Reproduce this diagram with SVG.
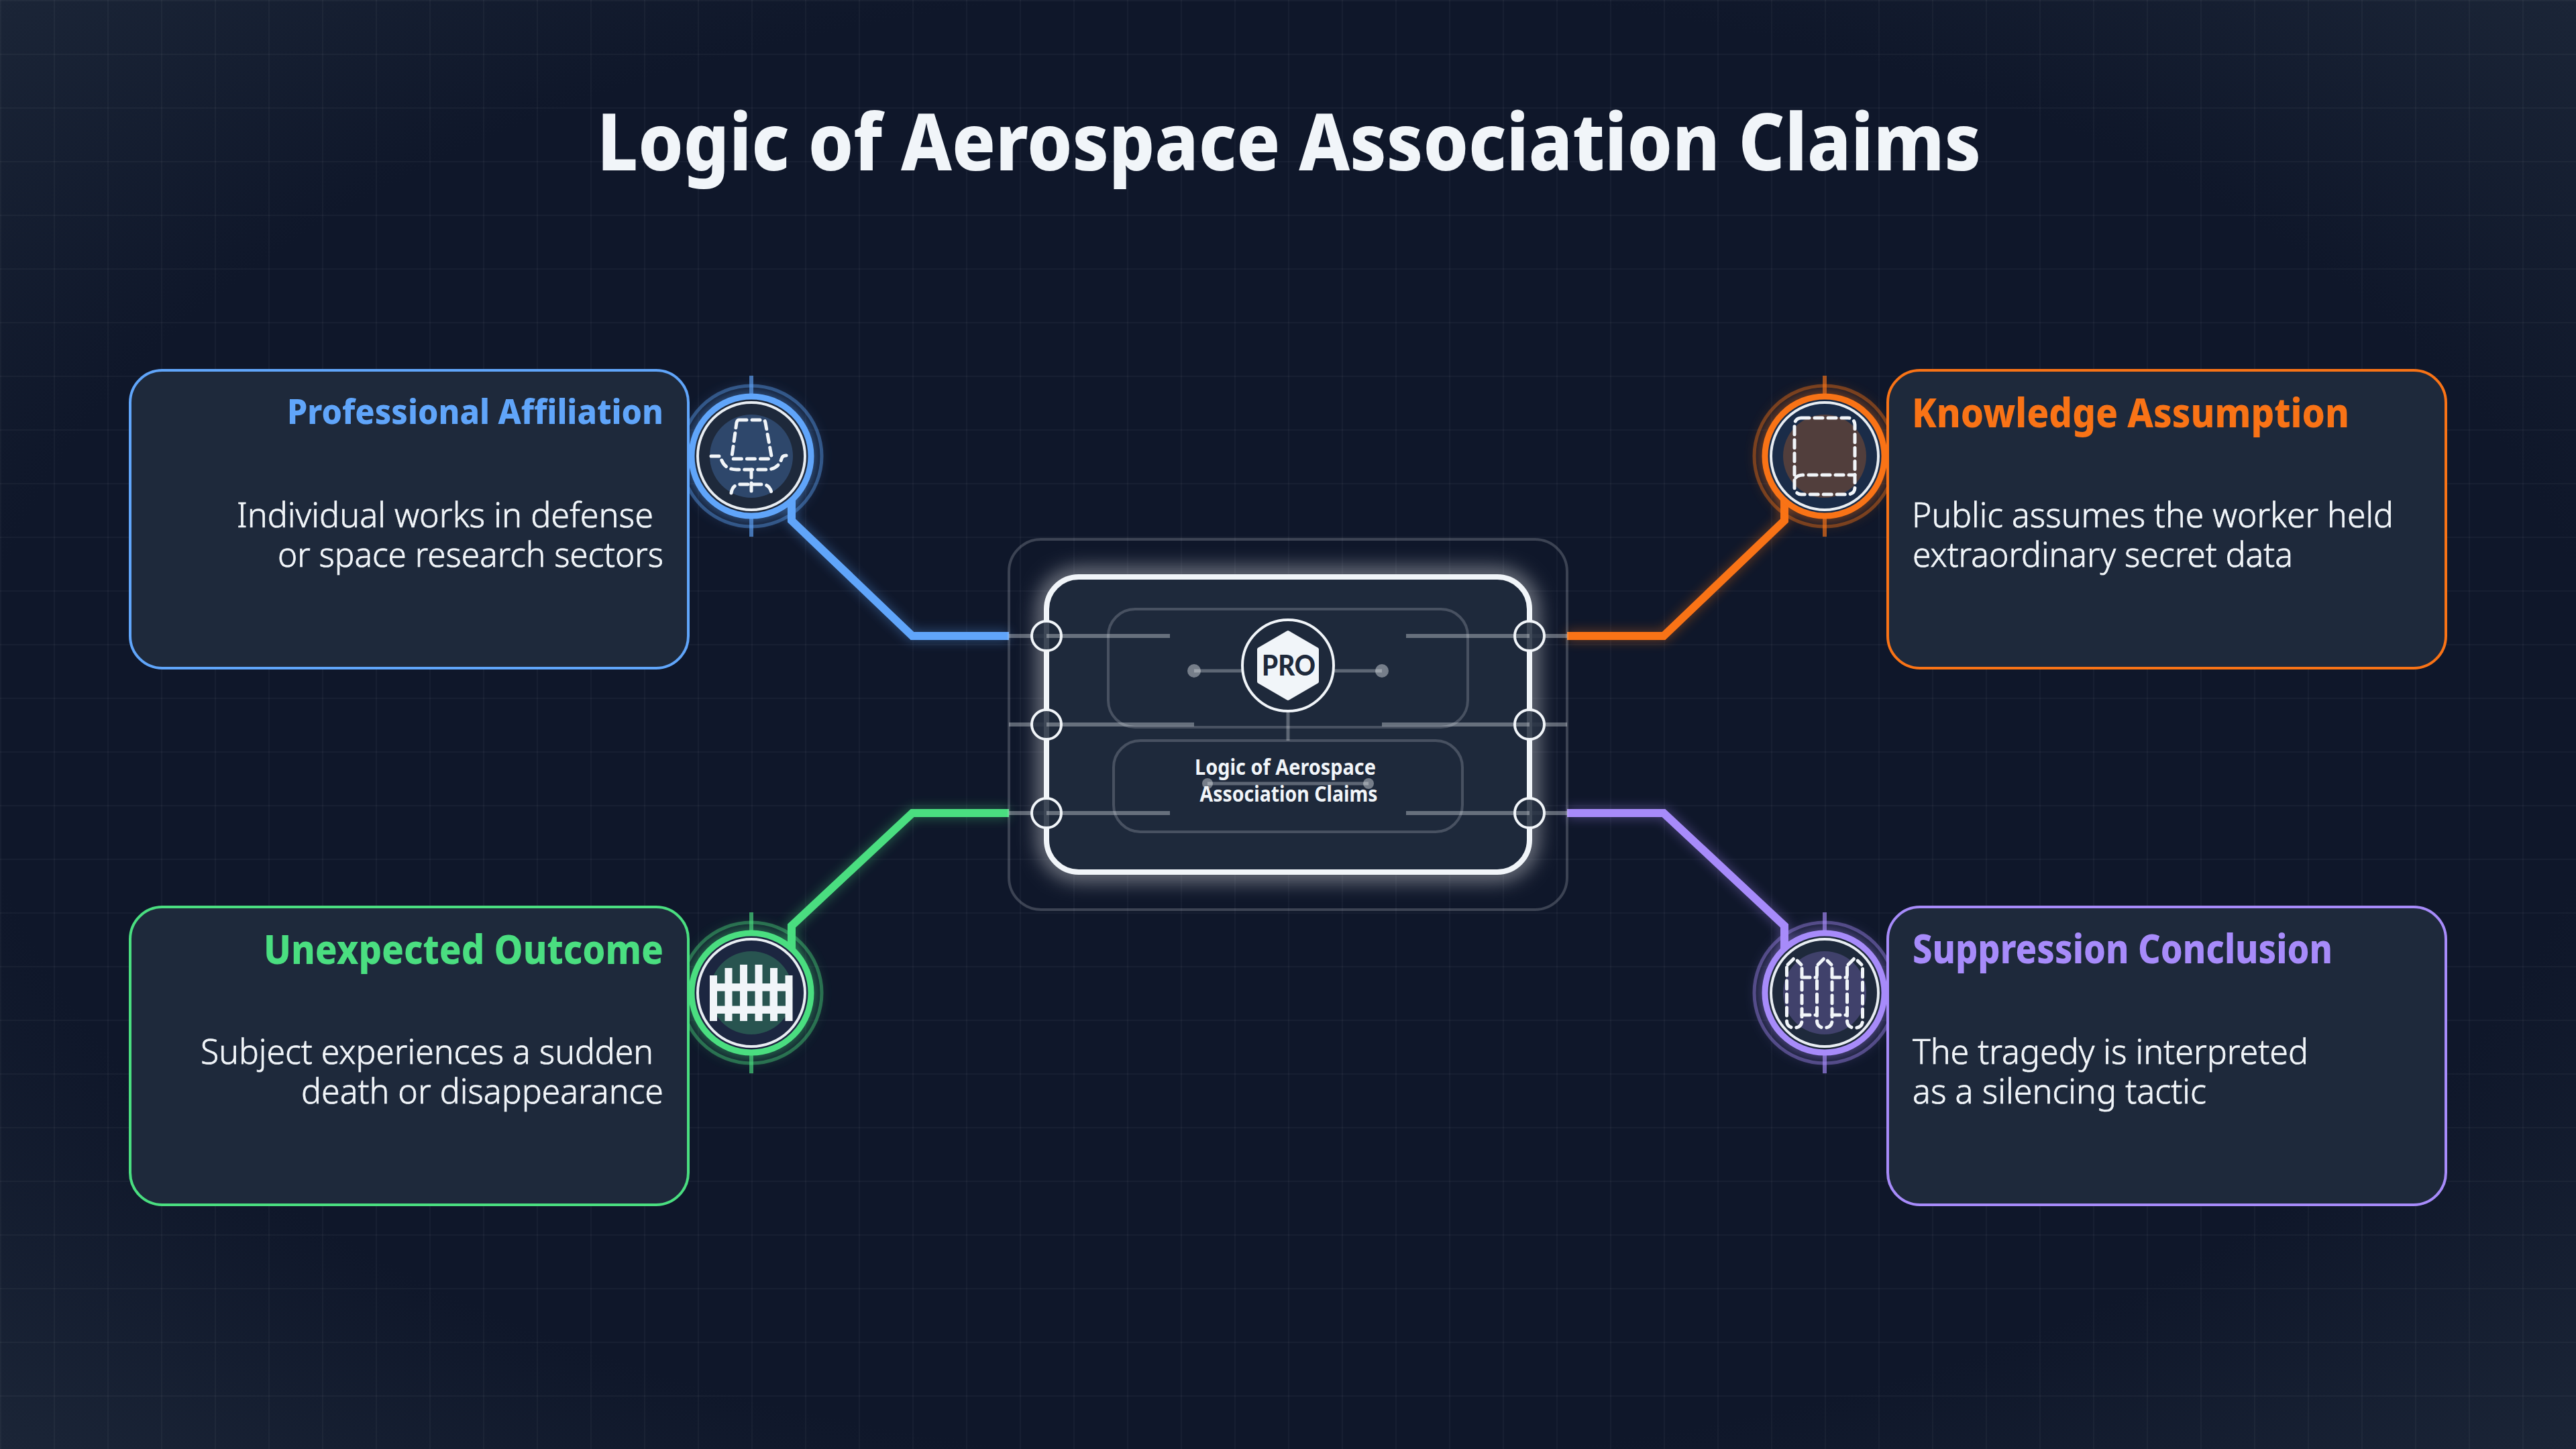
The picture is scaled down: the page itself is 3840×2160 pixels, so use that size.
<svg xmlns="http://www.w3.org/2000/svg" width="3840" height="2160" viewBox="0 0 3840 2160">
<defs>
<radialGradient id="bg" cx="0.5" cy="0.5" r="0.7072">
<stop offset="0" stop-color="#0f172a"/><stop offset="0.72" stop-color="#0f172a"/><stop offset="1" stop-color="#1b2537"/>
</radialGradient>
<pattern id="grid" width="80" height="80" patternUnits="userSpaceOnUse">
<rect width="80" height="2" fill="#fff" fill-opacity="0.035"/><rect width="2" height="80" fill="#fff" fill-opacity="0.035"/>
</pattern>
<filter id="glow" x="-50%" y="-50%" width="200%" height="200%"><feGaussianBlur stdDeviation="12"/></filter>
<filter id="glowHub" x="-20%" y="-30%" width="140%" height="160%"><feGaussianBlur stdDeviation="16"/></filter>
<filter id="glowLine" x="-30%" y="-30%" width="160%" height="160%"><feGaussianBlur stdDeviation="9"/></filter>
<style>
text{font-family:"Noto Sans","Open Sans","Liberation Sans",sans-serif;fill:#f1f5f9}
.title{font-size:118px;font-weight:800}
.ht{font-size:60px;font-weight:800}
.ds{font-size:52px;font-weight:300;stroke:#f1f5f9;stroke-width:.7}
.hub{font-size:32px;font-weight:700}
.card{fill:#1e293b;stroke-width:4}
.wire{fill:none;stroke-width:12;stroke-linejoin:miter}
.stub{stroke:#f1f5f9;stroke-opacity:.35;stroke-width:6;fill:none}
.fine{stroke:#f1f5f9;stroke-opacity:.3;stroke-width:5;fill:none}
.frame{fill:none;stroke:#f1f5f9;stroke-opacity:.2;stroke-width:4}
.dot{fill:#f1f5f9;fill-opacity:.42}
.port{fill:#1e293b;fill-opacity:.85;stroke:#f1f5f9;stroke-width:4}
.halo{fill:none;stroke-width:5;stroke-opacity:.4}
.tick{stroke-width:6;stroke-opacity:.65}
.ring{stroke-width:9}
.inner{fill:none;stroke:#e8edf2;stroke-width:4}
.dash{fill:none;stroke:#f1f5f9;stroke-width:5;stroke-linecap:round;stroke-linejoin:round;stroke-dasharray:12 8}
</style>
</defs>
<rect width="3840" height="2160" fill="url(#bg)"/>
<rect width="3840" height="2160" fill="url(#grid)"/>
<text class="title" x="890" y="254" textLength="2063" lengthAdjust="spacingAndGlyphs">Logic of Aerospace Association Claims</text>

<g id="connectors">
<path class="wire" d="M1504,948H1360L1180,776V720" stroke="#60a5fa" filter="url(#glowLine)" opacity=".45"/>
<path class="wire" d="M2336,948H2480L2660,776V720" stroke="#f97316" filter="url(#glowLine)" opacity=".45"/>
<path class="wire" d="M1504,1212H1360L1180,1380V1440" stroke="#4ade80" filter="url(#glowLine)" opacity=".45"/>
<path class="wire" d="M2336,1212H2480L2660,1380V1440" stroke="#a78bfa" filter="url(#glowLine)" opacity=".45"/>
<path class="wire" d="M1504,948H1360L1180,776V720" stroke="#60a5fa"/>
<path class="wire" d="M2336,948H2480L2660,776V720" stroke="#f97316"/>
<path class="wire" d="M1504,1212H1360L1180,1380V1440" stroke="#4ade80"/>
<path class="wire" d="M2336,1212H2480L2660,1380V1440" stroke="#a78bfa"/>
</g>

<g id="hub">
<rect class="frame" x="1504" y="804" width="832" height="552" rx="48"/>
<rect x="1560" y="860" width="720" height="440" rx="48" fill="none" stroke="#fff" stroke-width="14" stroke-opacity=".85" filter="url(#glowHub)"/>
<path class="stub" d="M1504,948H1560M1504,1080H1560M1504,1212H1560M2280,948H2336M2280,1080H2336M2280,1212H2336"/>
<rect x="1560" y="860" width="720" height="440" rx="48" fill="#1e293b" stroke="#f1f5f9" stroke-width="8"/>
<rect class="frame" x="1652" y="908" width="536" height="176" rx="40"/>
<rect class="frame" x="1660" y="1104" width="520" height="136" rx="40"/>
<circle class="port" cx="1560" cy="948" r="22"/><circle class="port" cx="1560" cy="1080" r="22"/><circle class="port" cx="1560" cy="1212" r="22"/>
<circle class="port" cx="2280" cy="948" r="22"/><circle class="port" cx="2280" cy="1080" r="22"/><circle class="port" cx="2280" cy="1212" r="22"/>
<path class="stub" d="M1560,948H1744M1560,1080H1780M1560,1212H1744M2096,948H2280M2060,1080H2280M2096,1212H2280"/>
<circle class="dot" cx="1780" cy="1000" r="10"/><circle class="dot" cx="2060" cy="1000" r="10"/>
<circle class="dot" cx="1800" cy="1168" r="8"/><circle class="dot" cx="2040" cy="1168" r="8"/>
<path class="fine" d="M1780,1000H2060M1800,1168H2040M1920,1060V1104"/>
<circle cx="1920" cy="992" r="68" fill="#1e293b" stroke="#f1f5f9" stroke-width="4"/>
<path d="M1920,943L1963,968V1016L1920,1041L1877,1016V968Z" fill="#f1f5f9" stroke="#f1f5f9" stroke-width="6" stroke-linejoin="round"/>
<text x="1881" y="1007" textLength="80" lengthAdjust="spacingAndGlyphs" style="font-family:Lato,'Noto Sans',sans-serif;font-size:42px;font-weight:900;fill:#1e293b">PRO</text>
<text class="hub" x="1781" y="1155" textLength="270" lengthAdjust="spacingAndGlyphs">Logic of Aerospace</text>
<text class="hub" x="1788.500" y="1195" textLength="265" lengthAdjust="spacingAndGlyphs">Association Claims</text>
</g>

<g id="node-professional">
<circle cx="1120" cy="680" r="94" fill="#60a5fa" filter="url(#glow)" opacity=".6"/>
<circle class="halo" cx="1120" cy="680" r="105" stroke="#60a5fa"/>
<line class="tick" x1="1120" y1="560" x2="1120" y2="800" stroke="#60a5fa"/>
<circle class="ring" cx="1120" cy="680" r="89" fill="#1e293b" stroke="#60a5fa"/>
<circle class="inner" cx="1120" cy="680" r="80"/>
<circle cx="1120" cy="680" r="62" fill="#60a5fa" fill-opacity=".25"/>
<path class="dash" d="M1101,626H1138Q1140,626 1141,630L1150,680Q1150,684 1146,684H1094Q1090,684 1091,680L1098,630Q1099,626 1101,626Z"/>
<path class="dash" d="M1060,680H1074Q1078,700 1098,700H1142Q1160,700 1165,684Q1166,679 1172,679"/>
<path class="dash" d="M1120,700V733M1090,735Q1092,722 1104,722H1136Q1148,722 1150,735"/>
<rect class="card" x="194" y="552" width="832" height="444" rx="48" stroke="#60a5fa"/>
<text class="ht" x="428" y="632" textLength="561" lengthAdjust="spacingAndGlyphs" style="font-size:52px;fill:#60a5fa">Professional Affiliation</text>
<text class="ds" x="353" y="786" textLength="621" lengthAdjust="spacingAndGlyphs">Individual works in defense</text>
<text class="ds" x="414" y="845" textLength="575" lengthAdjust="spacingAndGlyphs">or space research sectors</text>
</g>

<g id="node-knowledge">
<circle cx="2720" cy="680" r="94" fill="#f97316" filter="url(#glow)" opacity=".6"/>
<circle class="halo" cx="2720" cy="680" r="105" stroke="#f97316"/>
<line class="tick" x1="2720" y1="560" x2="2720" y2="800" stroke="#f97316"/>
<circle class="ring" cx="2720" cy="680" r="89" fill="#1a2c48" stroke="#f97316"/>
<circle class="inner" cx="2720" cy="680" r="80"/>
<circle cx="2720" cy="680" r="62" fill="#f97316" fill-opacity=".25"/>
<rect class="dash" x="2675" y="623" width="90" height="114" rx="10"/>
<path class="dash" d="M2677,712Q2680,708 2690,708H2765"/>
<rect class="card" x="2814" y="552" width="832" height="444" rx="48" stroke="#f97316"/>
<text class="ht" x="2850" y="637" textLength="652" lengthAdjust="spacingAndGlyphs" style="fill:#f97316">Knowledge Assumption</text>
<text class="ds" x="2850" y="786" textLength="718" lengthAdjust="spacingAndGlyphs">Public assumes the worker held</text>
<text class="ds" x="2851" y="845" textLength="567" lengthAdjust="spacingAndGlyphs">extraordinary secret data</text>
</g>

<g id="node-unexpected">
<circle cx="1120" cy="1480" r="94" fill="#4ade80" filter="url(#glow)" opacity=".6"/>
<circle class="halo" cx="1120" cy="1480" r="105" stroke="#4ade80"/>
<line class="tick" x1="1120" y1="1360" x2="1120" y2="1600" stroke="#4ade80"/>
<circle class="ring" cx="1120" cy="1480" r="89" fill="#1c2640" stroke="#4ade80"/>
<circle class="inner" cx="1120" cy="1480" r="80"/>
<circle cx="1120" cy="1480" r="62" fill="#4ade80" fill-opacity=".25"/>
<path fill="#f1f5f9" d="M1058,1454h11v12h11.500v-23h11v23h11.500v-28h11v28h11.500v-28h11v28h11.500v-23h11v23h11.500v-12h11v68h-11v-11h-11.500v11h-11v-11h-11.500v11h-11v-11h-11.500v11h-11v-11h-11.500v11h-11v-11h-11.500v11h-11zM1069,1477.500v22h11.500v-22zM1091.500,1477.500v22h11.500v-22zM1114,1477.500v22h11.500v-22zM1136.500,1477.500v22h11v-22zM1159,1477.500v22h12v-22z" fill-rule="evenodd"/>
<rect class="card" x="194" y="1352" width="832" height="444" rx="48" stroke="#4ade80"/>
<text class="ht" x="393" y="1437" textLength="596" lengthAdjust="spacingAndGlyphs" style="fill:#4ade80">Unexpected Outcome</text>
<text class="ds" x="299" y="1586" textLength="675" lengthAdjust="spacingAndGlyphs">Subject experiences a sudden</text>
<text class="ds" x="449" y="1645" textLength="540" lengthAdjust="spacingAndGlyphs">death or disappearance</text>
</g>

<g id="node-suppression">
<circle cx="2720" cy="1480" r="94" fill="#a78bfa" filter="url(#glow)" opacity=".6"/>
<circle class="halo" cx="2720" cy="1480" r="105" stroke="#a78bfa"/>
<line class="tick" x1="2720" y1="1360" x2="2720" y2="1600" stroke="#a78bfa"/>
<circle class="ring" cx="2720" cy="1480" r="89" fill="#1e293b" stroke="#a78bfa"/>
<circle class="inner" cx="2720" cy="1480" r="80"/>
<circle cx="2720" cy="1480" r="62" fill="#a78bfa" fill-opacity=".25"/>
<path class="dash" d="M2665,1438L2675,1428L2685,1438M2710,1438L2720,1428L2730,1438M2755,1438L2765,1428L2775,1438"/>
<path class="dash" d="M2663.500,1442V1522a10,10 0 0 0 10,10h2.500a10,10 0 0 0 10,-10V1442M2708.500,1442V1522a10,10 0 0 0 10,10h2.500a10,10 0 0 0 10,-10V1442M2753.500,1442V1522a10,10 0 0 0 10,10h3a10,10 0 0 0 10,-10V1442"/>
<path class="dash" d="M2686,1457H2708M2731,1457H2753M2686,1513H2708M2731,1513H2753"/>
<rect class="card" x="2814" y="1352" width="832" height="444" rx="48" stroke="#a78bfa"/>
<text class="ht" x="2851" y="1436" textLength="626" lengthAdjust="spacingAndGlyphs" style="fill:#a78bfa">Suppression Conclusion</text>
<text class="ds" x="2851" y="1586" textLength="590" lengthAdjust="spacingAndGlyphs">The tragedy is interpreted</text>
<text class="ds" x="2851" y="1645" textLength="438" lengthAdjust="spacingAndGlyphs">as a silencing tactic</text>
</g>
</svg>
